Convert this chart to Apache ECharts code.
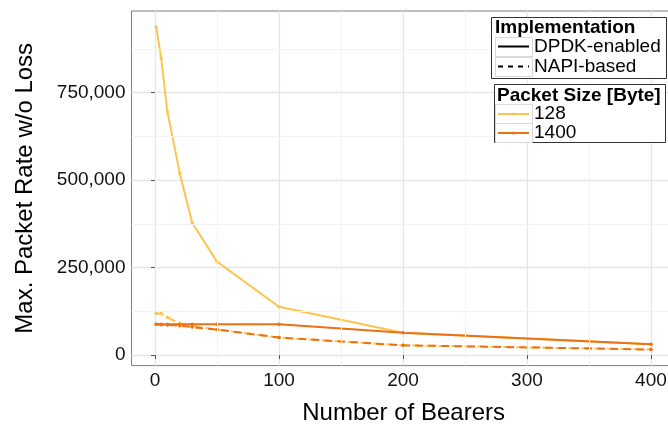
<!DOCTYPE html>
<html>
<head>
<meta charset="utf-8">
<script src="https://cdn.jsdelivr.net/npm/echarts@6/dist/echarts.min.js"></script>
<style>
html,body{margin:0;padding:0;background:#fff;}
#chart{width:668px;height:432px;}
</style>
</head>
<body>
<div id="chart"></div>
<script>
// ---- data ----
const bearers = [1, 5, 10, 20, 30, 50, 100, 200, 400];
const dpdk128 = [937000, 848000, 695000, 519000, 378000, 267000, 138000, 64000, 31000];
const dpdk1400 = [88000, 88000, 88000, 88000, 88000, 88000, 88000, 64000, 31000];
const napi128 = [119000, 119000, 108000, 90000, 84000, 73000, 50000, 28000, 16000];
const napi1400 = [88000, 87000, 86000, 84000, 80000, 73000, 50000, 28000, 16000];
const xTicks = [0, 100, 200, 300, 400];
const yTicks = [0, 250000, 500000, 750000];
const xMinor = [50, 150, 250, 350];
const yMinor = [125000, 375000, 625000, 875000];
const implLabels = ['DPDK-enabled', 'NAPI-based'];
const sizeLabels = ['128', '1400'];

const C128 = '#FEC44F';
const C1400 = '#EC7014';
const FONT = '"Liberation Sans", Arial, Helvetica, sans-serif';

function pairs(xs, ys) { return xs.map((x, i) => [x, ys[i]]); }
function fmt(v) { return v.toLocaleString('en-US'); }

const chart = echarts.init(document.getElementById('chart'), null, {renderer: 'canvas'});

const dataLine = (name, ys, color, dashed) => ({
  name: name, type: 'line', data: pairs(bearers, ys), z: 3,
  symbol: 'circle', symbolSize: 3.5, showSymbol: true,
  itemStyle: {color: color},
  lineStyle: {color: color, width: 2, type: dashed ? [8, 5] : 'solid'},
  emphasis: {disabled: true}, animation: false
});

const option = {
  animation: false,
  textStyle: {fontFamily: FONT},
  grid: {
    left: 131.5, top: 11, width: 544.2, height: 354.6,
    outerBoundsMode: 'none', containLabel: false,
    show: true, borderColor: '#7f7f7f', borderWidth: 1, backgroundColor: '#fff'
  },
  xAxis: {
    type: 'value', min: -18.95, max: 419.95,
    axisLine: {show: false},
    axisTick: {show: true, customValues: xTicks, length: 4, lineStyle: {color: '#555'}},
    axisLabel: {customValues: xTicks, fontSize: 19, color: '#111', margin: 6, fontFamily: FONT},
    splitLine: {show: true, lineStyle: {color: '#e6e6e6', width: 1.3}},
    name: 'Number of Bearers', nameLocation: 'middle', nameGap: 36,
    nameTextStyle: {fontSize: 24, color: '#000', fontFamily: FONT}
  },
  yAxis: {
    type: 'value', min: -30000, max: 983000,
    axisLine: {show: false},
    axisTick: {show: true, customValues: yTicks, length: 4, lineStyle: {color: '#555'}},
    axisLabel: {customValues: yTicks, fontSize: 19, color: '#111', margin: 6, fontFamily: FONT,
      formatter: v => fmt(v)},
    splitLine: {show: true, lineStyle: {color: '#e6e6e6', width: 1.3}},
    name: 'Max. Packet Rate w/o Loss', nameLocation: 'middle', nameGap: 94,
    nameTextStyle: {fontSize: 24, color: '#000', fontFamily: FONT}
  },
  legend: [
    {
      data: implLabels, orient: 'vertical', left: 497, top: 37, padding: 0, z: 100,
      itemWidth: 31, itemHeight: 4, itemGap: 1, selectedMode: false,
      textStyle: {fontSize: 19, color: '#000', fontFamily: FONT}
    },
    {
      data: sizeLabels, orient: 'vertical', left: 497, top: 104.5, padding: 0, z: 100,
      itemWidth: 31, itemHeight: 4, itemGap: 0, selectedMode: false,
      textStyle: {fontSize: 19, color: '#000', fontFamily: FONT}
    }
  ],
  graphic: [
    {type: 'rect', shape: {x: 491.5, y: 17.5, width: 175, height: 61}, style: {fill: '#fff', stroke: '#333', lineWidth: 1}, z: 50},
    {type: 'text', x: 495, y: 27.5, style: {text: 'Implementation', font: 'bold 19px ' + FONT, fill: '#000', verticalAlign: 'middle'}, z: 51},
    {type: 'rect', shape: {x: 495.5, y: 37.5, width: 37, height: 19}, style: {fill: 'none', stroke: '#d9d9d9', lineWidth: 1}, z: 101},
    {type: 'rect', shape: {x: 495.5, y: 57.5, width: 37, height: 19}, style: {fill: 'none', stroke: '#d9d9d9', lineWidth: 1}, z: 101},
    {type: 'rect', shape: {x: 494.5, y: 84.5, width: 171, height: 58}, style: {fill: '#fff', stroke: '#333', lineWidth: 1}, z: 50},
    {type: 'text', x: 497, y: 96, style: {text: 'Packet Size [Byte]', font: 'bold 19px ' + FONT, fill: '#000', verticalAlign: 'middle'}, z: 51},
    {type: 'rect', shape: {x: 495.5, y: 104.5, width: 37, height: 19}, style: {fill: 'none', stroke: '#d9d9d9', lineWidth: 1}, z: 101},
    {type: 'rect', shape: {x: 495.5, y: 123.5, width: 37, height: 19}, style: {fill: 'none', stroke: '#d9d9d9', lineWidth: 1}, z: 101}
  ],
  series: [
    {
      name: '_grid', type: 'line', data: [], z: 1, silent: true,
      markLine: {
        silent: true, symbol: 'none', animation: false,
        label: {show: false},
        lineStyle: {color: '#f3f3f3', width: 1, type: 'solid'},
        emphasis: {disabled: true},
        data: xMinor.map(v => ({xAxis: v})).concat(yMinor.map(v => ({yAxis: v})))
      }
    },
    {name: implLabels[0], type: 'line', data: [], symbol: 'none', itemStyle: {color: 'rgba(0,0,0,0)'}, lineStyle: {color: '#000', width: 1.3, type: 'solid'}},
    {name: implLabels[1], type: 'line', data: [], symbol: 'none', itemStyle: {color: 'rgba(0,0,0,0)'}, lineStyle: {color: '#000', width: 1.3, type: [5, 5]}},
    dataLine(sizeLabels[0], dpdk128, C128, false),
    dataLine(sizeLabels[0], napi128, C128, true),
    dataLine(sizeLabels[1], dpdk1400, C1400, false),
    dataLine(sizeLabels[1], napi1400, C1400, true)
  ]
};
chart.setOption(option);
</script>
</body>
</html>
